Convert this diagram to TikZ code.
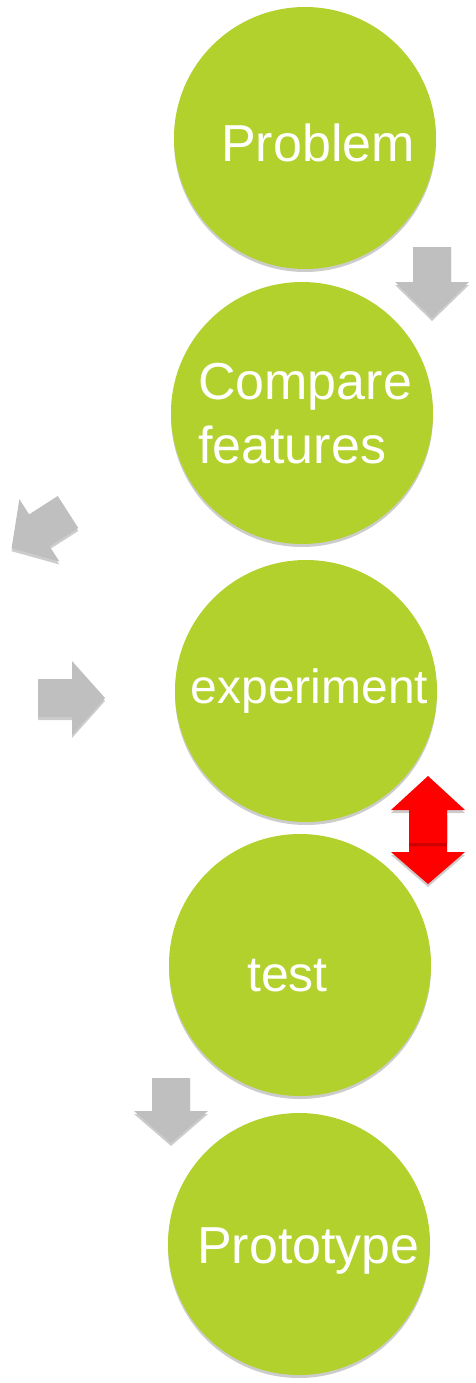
\documentclass[tikz,border=0pt]{standalone}
\usepackage{fontspec}
\setmainfont{Liberation Sans}
\usetikzlibrary{shadows}

\definecolor{stagegreen}{RGB}{179,209,44}
\definecolor{arrowgray}{RGB}{191,191,191}

% block arrow: #1 tail, #2 angle, #3 length, #4 head length, #5 fill
\newcommand{\blockarrow}[5]{%
\begin{scope}[yshift=-3pt]
\begin{scope}[shift={#1},rotate=#2]
\fill[black,opacity=0.2] (0,-19) -- ({#3-#4},-19) -- ({#3-#4},-37) -- (#3,0) -- ({#3-#4},37) -- ({#3-#4},19) -- (0,19) -- cycle;
\end{scope}
\end{scope}
\begin{scope}[shift={#1},rotate=#2]
\fill[#5] (0,-19) -- ({#3-#4},-19) -- ({#3-#4},-37) -- (#3,0) -- ({#3-#4},37) -- ({#3-#4},19) -- (0,19) -- cycle;
\end{scope}}

\tikzset{
  stage/.style={circle, fill=stagegreen, minimum size=262pt, inner sep=0pt,
    drop shadow={shadow xshift=0pt, shadow yshift=-3pt, fill=black, opacity=0.2}},
  stagetext/.style={text=white, inner sep=0pt, font=\fontsize{52}{64}\selectfont}
}

\begin{document}
\begin{tikzpicture}[x=1pt,y=1pt]
\useasboundingbox (0,0) rectangle (475,-1383);

\node[stage] (problem) at (305,-138) {};
\node[stage] (compare) at (302,-413) {};
\node[stage] (experiment) at (306,-691) {};
\node[stage] (test) at (300,-965) {};
\node[stage] (prototype) at (299,-1244) {};

\node[stagetext, anchor=base] (problemtext) at (318,-162) {Problem};
\node[stagetext, anchor=base west, align=left] (comparetext) at (198,-463) {Compare\\features};
\node[stagetext, anchor=base, font=\fontsize{48}{58}\selectfont] (experimenttext) at (309.5,-703) {experiment};
\node[stagetext, anchor=base, font=\fontsize{50}{60}\selectfont] (testtext) at (287.5,-991) {test};
\node[stagetext, anchor=base] (prototypetext) at (308.5,-1263) {Prototype};

% gray arrows
\blockarrow{(432,-247)}{-90}{71}{36}{arrowgray}
\blockarrow{(68,-512)}{212.7}{67}{33}{arrowgray}
\blockarrow{(38,-698)}{0}{67}{33}{arrowgray}
\blockarrow{(171,-1078)}{-90}{65}{32}{arrowgray}

% red double arrow
\blockarrow{(428,-815)}{-90}{69}{32}{red}
\blockarrow{(428,-843)}{90}{67}{34}{red}

\end{tikzpicture}
\end{document}
